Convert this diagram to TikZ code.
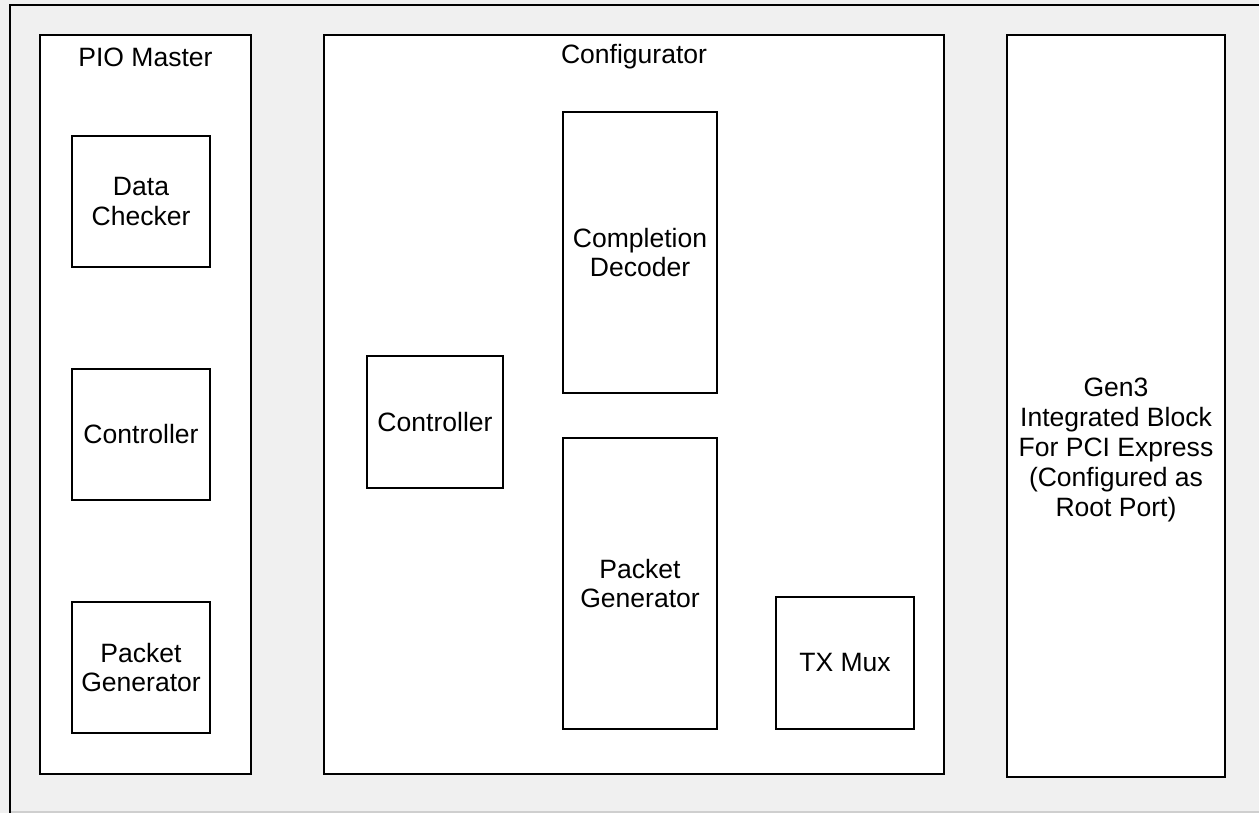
\documentclass[tikz,border=0pt]{standalone}
\usepackage{fontspec}
\setmainfont{Liberation Sans}
\usepackage{tikz}
\usetikzlibrary{positioning}
\definecolor{BGGray}{HTML}{F0F0F0}
\definecolor{EdgeGray}{HTML}{CFCFCF}

\begin{document}
\begin{tikzpicture}[
  x=0.02cm, y=-0.02cm,
  blockbox/.style={draw=black, fill=white, line width=1.6pt, inner sep=0pt, align=center, font=\fontsize{15.1}{17}\selectfont},
  titletext/.style={inner sep=0pt, font=\fontsize{15.1}{17}\selectfont}
]
\useasboundingbox (0,0) rectangle (1259,813);
\fill[BGGray] (0,0) rectangle (1259,813);
\draw[EdgeGray, line width=1pt] (10,812) -- (1259,812);
\draw[black, line width=1.6pt] (10,813) -- (10,5) -- (1259,5);

% PIO master side
\node[blockbox, minimum width=211*0.02cm, minimum height=739*0.02cm] (pio) at (145.5,404.5) {};
\node[titletext] (piotitle) at (145.5,57) {PIO Master};
\node[blockbox, minimum width=138*0.02cm, minimum height=131*0.02cm] (checker) at (141,201.5) {Data\\Checker};
\node[blockbox, minimum width=138*0.02cm, minimum height=131*0.02cm] (pioctrl) at (141,434.5) {Controller};
\node[blockbox, minimum width=138*0.02cm, minimum height=131*0.02cm] (piogen) at (141,667.5) {Packet\\Generator};

% configurator
\node[blockbox, minimum width=620*0.02cm, minimum height=739*0.02cm] (cfg) at (634,404.5) {};
\node[titletext] (cfgtitle) at (634,57) {Configurator};
\node[blockbox, minimum width=154*0.02cm, minimum height=281*0.02cm] (decoder) at (640,252.5) {Completion\\Decoder};
\node[blockbox, minimum width=136*0.02cm, minimum height=132*0.02cm] (cfgctrl) at (435,422) {Controller};
\node[blockbox, minimum width=154*0.02cm, minimum height=291*0.02cm] (cfggen) at (640,583.5) {Packet\\Generator};
\node[blockbox, minimum width=138*0.02cm, minimum height=132*0.02cm] (txmux) at (845,663) {TX Mux};

% root port
\node[blockbox, minimum width=218*0.02cm, minimum height=742*0.02cm] (gen3) at (1116,406) {};
\node[titletext, align=center] (gen3text) at (1116,450) {Gen3\\Integrated Block\\For PCI Express\\(Configured as\\Root Port)};
\end{tikzpicture}
\end{document}
